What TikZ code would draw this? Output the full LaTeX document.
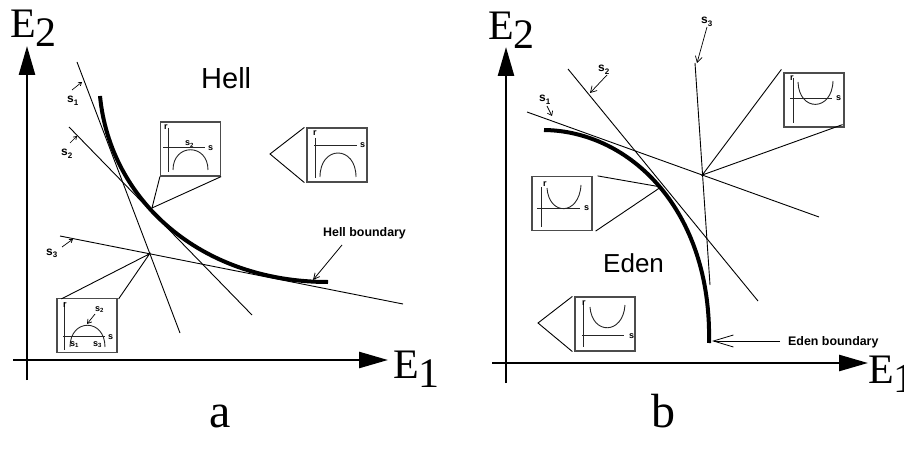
\documentclass[tikz,border=0pt]{standalone}
\usepackage{fontspec}
\setmainfont{Liberation Serif}
\setsansfont{Liberation Sans}
\usetikzlibrary{arrows.meta}
\newcommand\slab[1]{\textbf{s}\raisebox{-2.5pt}{\fontsize{8}{8}\selectfont\textbf{#1}}}
\begin{document}
\begin{tikzpicture}[x=1pt,y=-1pt,
  fineline/.style={line width=0.9pt},
  axisline/.style={line width=2.6pt,-{Triangle[length=29pt,width=16pt]}},
  boundary/.style={line width=4pt},
  inset/.style={draw=black!70,line width=1.2pt,minimum width=60pt,minimum height=54pt,inner sep=0pt},
  insetline/.style={line width=0.9pt,black!85},
  biglabel/.style={font=\fontsize{42}{42}\selectfont,inner sep=0pt,anchor=base west},
  panellabel/.style={font=\fontsize{48}{48}\selectfont,inner sep=0pt,anchor=base west},
  region/.style={font=\sffamily\fontsize{29}{29}\selectfont,inner sep=0pt,anchor=base west},
  smalllab/.style={font=\sffamily\fontsize{12}{12}\selectfont,inner sep=0pt,anchor=base west},
  boxlab/.style={font=\sffamily\bfseries\fontsize{9}{9}\selectfont,inner sep=0pt,anchor=base west},
  bndlab/.style={font=\sffamily\bfseries\fontsize{12.4}{12.4}\selectfont,inner sep=0pt,anchor=base west},
  sarrow/.style={line width=0.7pt,-{Straight Barb[length=3pt,width=4pt]}},
]
\useasboundingbox (0,0) rectangle (904,457);

% ================= Panel a =================
\draw[axisline] (27,380) -- (27,46);
\draw[axisline] (13,360) -- (388,360);
\node[biglabel] (aE2) at (10,38) {E\lower9pt\hbox{2}};
\node[biglabel] (aE1) at (393,378) {E\lower9pt\hbox{1}};
\node[panellabel] (la) at (209,427) {a};

\coordinate (a1s) at (77,62);  \coordinate (a1e) at (180,333);
\coordinate (a2s) at (69,127); \coordinate (a2e) at (252,315);
\coordinate (a3s) at (60,236); \coordinate (a3e) at (403,304);
\draw[fineline] (a1s) -- (a1e);
\draw[fineline] (a2s) -- (a2e);
\draw[fineline] (a3s) -- (a3e);
\coordinate (aX) at (149.6,253.8);
\coordinate (aT) at (152,208);

\draw[boundary] (100,96) .. controls (110,200) and (200,282) .. (328,282);

\node[region] (hell) at (201,89) {Hell};
\node[bndlab] (hellb) at (323,236) {Hell boundary};
\coordinate (hellbt) at (313,280);
\draw[line width=0.8pt,-{Straight Barb[length=6pt,width=6pt]}] (342,245) -- (hellbt);

\node[smalllab] (as1) at (67,103) {\slab{1}};
\node[smalllab] (as2) at (61,156) {\slab{2}};
\node[smalllab] (as3) at (46,255) {\slab{3}};
\draw[sarrow] (72,90) -- (82,82);
\draw[sarrow] (70,143) -- (77,136);
\draw[sarrow] (62,247) -- (73,239);

% inset A1
\node[inset] (A1) at (190.5,149) {};
\draw[fineline] (A1.south west) -- (aT) -- (A1.south east);
\draw[insetline] (168,128) -- (168,172);
\draw[insetline] (163,147) -- (205,147);
\draw[insetline] (173,170) .. controls (173,143) and (208,143) .. (208,170);
\node[boxlab] (A1r) at (164,130) {r};
\node[boxlab] (A1s) at (208,151) {s};
\node[boxlab] (A1s2) at (185,146) {s\raisebox{-1.5pt}{\fontsize{6}{6}\selectfont 2}};

% inset A2
\node[inset] (A2) at (337,155) {};
\draw[fineline] ([xshift=-2pt]A2.north west) -- (270,154) -- ([xshift=-2pt]A2.south west);
\draw[insetline] (315,138) -- (315,178);
\draw[insetline] (314,145) -- (357,145);
\draw[insetline] (320,177) .. controls (320,145) and (356,145) .. (356,177);
\node[boxlab] (A2r) at (313,136) {r};
\node[boxlab] (A2s) at (360,148) {s};

% inset A3
\node[inset] (A3) at (87,325.5) {};
\draw[fineline] ([shift={(5pt,-1pt)}]A3.north west) -- (aX) -- ([shift={(1pt,-1pt)}]A3.north east);
\draw[insetline] (64,302) -- (64,350);
\draw[insetline] (63,336) -- (105,336);
\draw[insetline] (70,347) .. controls (70,318) and (105,318) .. (105,347);
\node[boxlab] (A3r) at (63,307) {r};
\node[boxlab] (A3s) at (108,339) {s};
\node[boxlab] (A3s1) at (70,346) {s\raisebox{-1.5pt}{\fontsize{6}{6}\selectfont 1}};
\node[boxlab] (A3s3) at (93,346) {s\raisebox{-1.5pt}{\fontsize{6}{6}\selectfont 3}};
\node[boxlab] (A3s2) at (95,311) {s\raisebox{-1.5pt}{\fontsize{6}{6}\selectfont 2}};
\draw[line width=0.7pt,-{Straight Barb[length=4pt,width=5pt]}] (95,314) -- (87,324);

% ================= Panel b =================
\draw[axisline] (506,383) -- (506,47);
\draw[axisline] (492,363) -- (868,363);
\node[biglabel] (bE2) at (488,40) {E\lower9pt\hbox{2}};
\node[biglabel] (bE1) at (868,383) {E\lower9pt\hbox{1}};
\node[panellabel] (lb) at (651,427) {b};

\coordinate (b1s) at (527,112); \coordinate (b1e) at (819,217);
\coordinate (b2s) at (568,69);  \coordinate (b2e) at (758,301);
\coordinate (b3s) at (695,63);  \coordinate (b3e) at (710,285);
\draw[fineline] (b1s) -- (b1e);
\draw[fineline] (b2s) -- (b2e);
\draw[fineline] (b3s) -- (b3e);
\coordinate (bX) at (702.3,175);
\coordinate (bT) at (661,187);

\draw[boundary] (544,130) .. controls (630,131) and (712,210) .. (709,343);

\node[region, font=\sffamily\fontsize{26}{26}\selectfont] (eden) at (603,272) {Eden};
\node[bndlab] (edenb) at (788,345) {Eden boundary};
\draw[line width=0.8pt,-{Straight Barb[length=20pt,width=12pt]}] (780,341) -- (712,341);

\node[smalllab] (bs1) at (539,102) {\slab{1}};
\node[smalllab] (bs2) at (598,72) {\slab{2}};
\node[smalllab] (bs3) at (701,24) {\slab{3}};
\draw[line width=0.7pt,-{Straight Barb[length=4pt,width=6pt]}] (547,106) -- (552,116);
\draw[line width=0.7pt,-{Straight Barb[length=6pt,width=7pt]}] (607,75) -- (590,93);
\draw[line width=0.7pt,-{Straight Barb[length=6pt,width=7pt]}] (707,27) -- (697,63);

% inset B1
\node[inset] (B1) at (814,100) {};
\draw[fineline] ([shift={(-2pt,3pt)}]B1.north west) -- (bX) -- ([shift={(-2pt,3pt)}]B1.south east);
\draw[insetline] (793,78) -- (793,123);
\draw[insetline] (790,98) -- (832,98);
\draw[insetline] (798,82) .. controls (799,112) and (832,112) .. (833,81);
\node[boxlab] (B1r) at (790,81) {r};
\node[boxlab] (B1s) at (836,101) {s};

% inset B2
\node[inset] (B2) at (562,203.5) {};
\draw[fineline] ([xshift=5pt]B2.north east) -- (bT) -- ([xshift=3pt]B2.south east);
\draw[insetline] (541,187) -- (541,227);
\draw[insetline] (537,208) -- (580,208);
\draw[insetline] (547,188) .. controls (549,216) and (579,216) .. (581,185);
\node[boxlab] (B2r) at (543,186) {r};
\node[boxlab] (B2s) at (584,211) {s};

% inset B3
\node[inset] (B3) at (605,324) {};
\draw[fineline] ([xshift=-2pt]B3.north west) -- (538,323) -- ([xshift=-2pt]B3.south west);
\draw[insetline] (583,302) -- (583,347);
\draw[insetline] (582,335) -- (624,335);
\draw[insetline] (590,307) .. controls (592,335) and (623,335) .. (625,305);
\node[boxlab] (B3r) at (582,305) {r};
\node[boxlab] (B3s) at (629,338) {s};
\end{tikzpicture}
\end{document}
